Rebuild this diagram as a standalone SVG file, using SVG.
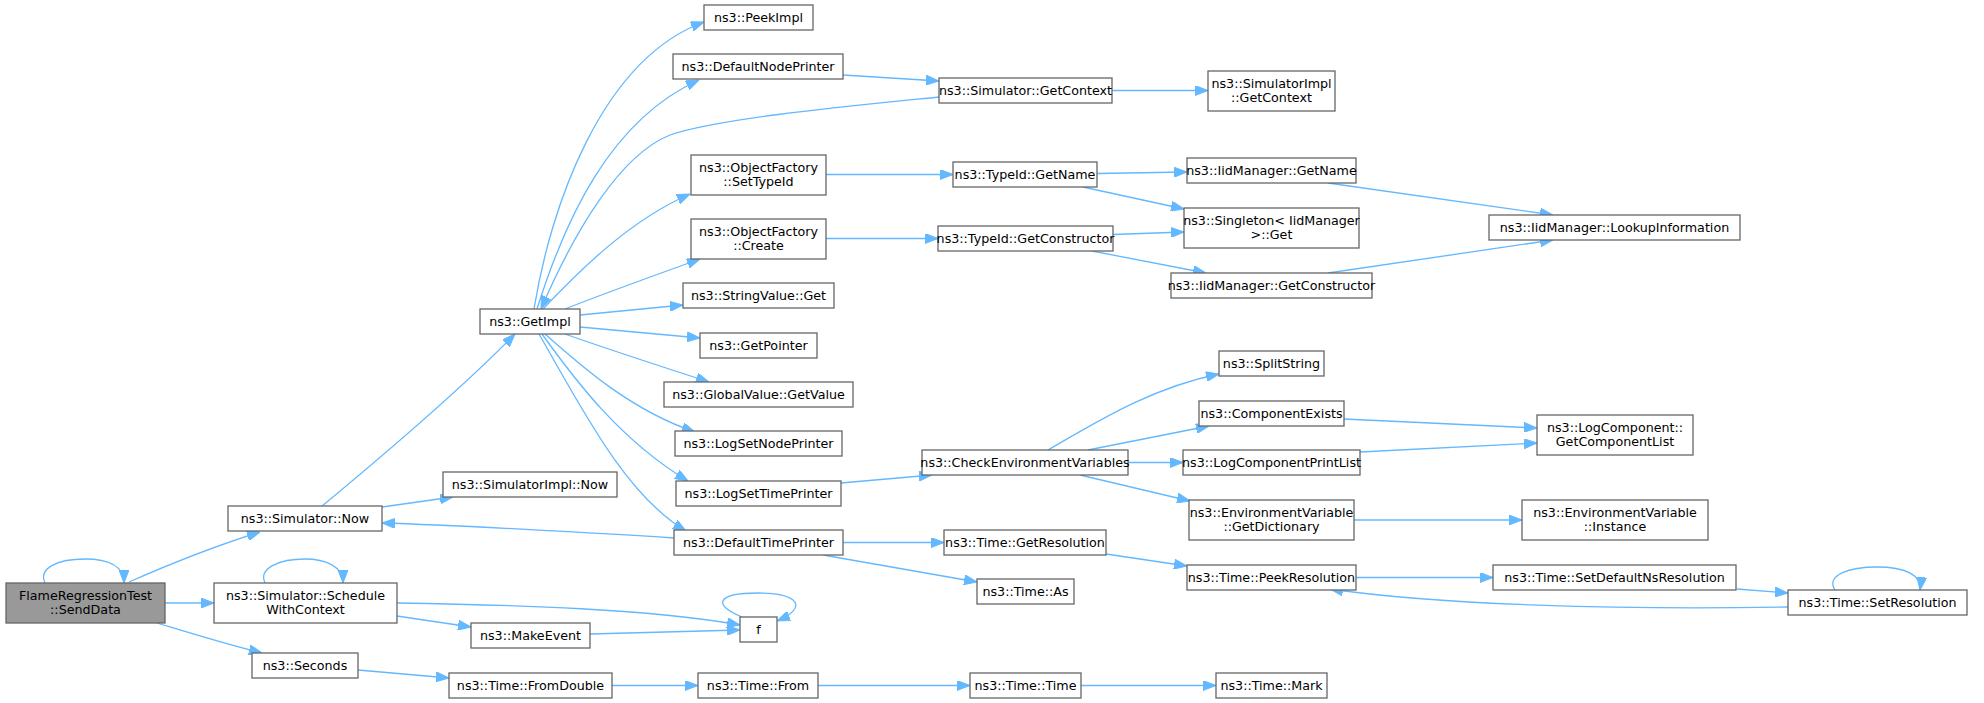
<svg xmlns="http://www.w3.org/2000/svg" width="1984" height="703" viewBox="0 0 1984 703">
<style>
.n rect{fill:#fff;stroke:#666;stroke-width:1.3}
.n text{font-family:"DejaVu Sans","Liberation Sans",sans-serif;font-size:12.7px;fill:#000;text-anchor:middle}
#n1 rect{fill:#999}
.e path{fill:none;stroke:#63b8ff;stroke-width:1.3;marker-end:url(#ah)}
</style>
<defs>
<marker id="ah" markerUnits="userSpaceOnUse" markerWidth="13" markerHeight="10" refX="13" refY="5" orient="auto"><path d="M0,0 L13,5 L0,10 z" fill="#63b8ff" stroke="#63b8ff" stroke-width="1"/></marker>
</defs>
<rect width="1984" height="703" fill="#fff"/>
<g id="edges" class="e">
<path d="M45,583 C38,568 58,559 85,559 C108,559 124,566 124,583"/>
<path d="M129,582 C170,564 215,546 260,532"/>
<path d="M165,603 L214,603"/>
<path d="M157,623 C190,633 225,644 262,653"/>
<path d="M322,506 C380,458 460,390 515,334"/>
<path d="M382,507 L453,497"/>
<path d="M674,538 C600,533 450,525 382,523"/>
<path d="M265,583 C258,568 280,559 305,559 C325,559 343,566 343,583"/>
<path d="M397,603 C520,605 650,609 740,625"/>
<path d="M397,616 L471,627"/>
<path d="M590,634 L740,630"/>
<path d="M742,617 C714,606 714,593 758,593 C800,593 808,608 777,621"/>
<path d="M358,670 L449,678"/>
<path d="M612,685.5 L698,685.5"/>
<path d="M818,685.5 L970,685.5"/>
<path d="M1081,685.5 L1216,685.5"/>
<path d="M534,309 C550,210 600,60 704,22"/>
<path d="M537,309 C565,220 610,120 699,80"/>
<path d="M939,97 C850,106 720,118 670,135 C620,155 575,230 541,309"/>
<path d="M843,75 L939,81"/>
<path d="M1112,90.5 L1208,90.5"/>
<path d="M543,309 C580,270 630,220 690,194"/>
<path d="M565,309 C600,295 650,277 700,259"/>
<path d="M580,315 L683,305"/>
<path d="M580,327 L700,338"/>
<path d="M565,334 C610,350 660,366 709,382"/>
<path d="M545,334 C580,365 630,410 695,432"/>
<path d="M542,334 C575,380 620,440 688,481"/>
<path d="M539,334 C580,405 625,495 686,531"/>
<path d="M826,174.5 L953,174.5"/>
<path d="M826,238.5 L938,238.5"/>
<path d="M1097,173.5 L1187,172"/>
<path d="M1083,187 L1184,209"/>
<path d="M1113,234.5 L1184,232"/>
<path d="M1092,251 L1206,273"/>
<path d="M1328,183 L1553,215"/>
<path d="M1328,273 L1553,240"/>
<path d="M841,483 L932,475"/>
<path d="M1048,450 C1095,423 1150,388 1219,374"/>
<path d="M1088,450 L1209,426"/>
<path d="M1128,462.5 L1183,462.5"/>
<path d="M1080,475 L1190,501"/>
<path d="M1344,419 L1537,428"/>
<path d="M1360,452 L1537,443"/>
<path d="M1354,520 L1522,520"/>
<path d="M843,542.5 L944,542.5"/>
<path d="M823,555 L977,582"/>
<path d="M1106,554 L1187,566"/>
<path d="M1356,577.5 L1493,577.5"/>
<path d="M1737,589 L1788,593"/>
<path d="M1788,607 C1620,610 1440,605 1330,589"/>
<path d="M1835,590 C1825,575 1850,567 1877,567 C1905,567 1922,575 1920,590"/>
</g>
<g id="n1" class="n"><rect x="6" y="583" width="159" height="40"/><text x="85.5" y="599.5">FlameRegressionTest</text><text x="85.5" y="613.5">::SendData</text></g>
<g id="n2" class="n"><rect x="228" y="506" width="154" height="25"/><text x="305" y="523">ns3::Simulator::Now</text></g>
<g id="n3" class="n"><rect x="214" y="583" width="183" height="40"/><text x="305.5" y="599.5">ns3::Simulator::Schedule</text><text x="305.5" y="613.5">WithContext</text></g>
<g id="n4" class="n"><rect x="252" y="653" width="106" height="25"/><text x="305" y="670">ns3::Seconds</text></g>
<g id="n5" class="n"><rect x="480" y="309" width="100" height="25"/><text x="530" y="326">ns3::GetImpl</text></g>
<g id="n6" class="n"><rect x="443" y="472" width="174" height="25"/><text x="530" y="489">ns3::SimulatorImpl::Now</text></g>
<g id="n7" class="n"><rect x="704" y="5" width="109" height="25"/><text x="758.5" y="22">ns3::PeekImpl</text></g>
<g id="n8" class="n"><rect x="673" y="54" width="170" height="25"/><text x="758" y="71">ns3::DefaultNodePrinter</text></g>
<g id="n9" class="n"><rect x="691" y="155" width="135" height="40"/><text x="758.5" y="171.5">ns3::ObjectFactory</text><text x="758.5" y="185.5">::SetTypeId</text></g>
<g id="n10" class="n"><rect x="691" y="219" width="135" height="40"/><text x="758.5" y="235.5">ns3::ObjectFactory</text><text x="758.5" y="249.5">::Create</text></g>
<g id="n11" class="n"><rect x="683" y="283" width="151" height="25"/><text x="758.5" y="300">ns3::StringValue::Get</text></g>
<g id="n12" class="n"><rect x="700" y="333" width="117" height="25"/><text x="758.5" y="350">ns3::GetPointer</text></g>
<g id="n13" class="n"><rect x="664" y="382" width="189" height="25"/><text x="758.5" y="399">ns3::GlobalValue::GetValue</text></g>
<g id="n14" class="n"><rect x="675" y="431" width="167" height="25"/><text x="758.5" y="448">ns3::LogSetNodePrinter</text></g>
<g id="n15" class="n"><rect x="676" y="481" width="165" height="25"/><text x="758.5" y="498">ns3::LogSetTimePrinter</text></g>
<g id="n16" class="n"><rect x="674" y="530" width="169" height="25"/><text x="758.5" y="547">ns3::DefaultTimePrinter</text></g>
<g id="n17" class="n"><rect x="740" y="617" width="37" height="25"/><text x="758.5" y="634">f</text></g>
<g id="n18" class="n"><rect x="471" y="623" width="119" height="25"/><text x="530.5" y="640">ns3::MakeEvent</text></g>
<g id="n19" class="n"><rect x="449" y="673" width="163" height="25"/><text x="530.5" y="690">ns3::Time::FromDouble</text></g>
<g id="n20" class="n"><rect x="698" y="673" width="120" height="25"/><text x="758" y="690">ns3::Time::From</text></g>
<g id="n21" class="n"><rect x="939" y="78" width="173" height="25"/><text x="1025.5" y="95">ns3::Simulator::GetContext</text></g>
<g id="n22" class="n"><rect x="1208" y="71" width="127" height="40"/><text x="1271.5" y="87.5">ns3::SimulatorImpl</text><text x="1271.5" y="101.5">::GetContext</text></g>
<g id="n23" class="n"><rect x="953" y="162" width="144" height="25"/><text x="1025" y="179">ns3::TypeId::GetName</text></g>
<g id="n24" class="n"><rect x="938" y="226" width="175" height="25"/><text x="1025.5" y="243">ns3::TypeId::GetConstructor</text></g>
<g id="n25" class="n"><rect x="922" y="450" width="206" height="25"/><text x="1025" y="467">ns3::CheckEnvironmentVariables</text></g>
<g id="n26" class="n"><rect x="944" y="530" width="162" height="25"/><text x="1025" y="547">ns3::Time::GetResolution</text></g>
<g id="n27" class="n"><rect x="977" y="579" width="97" height="25"/><text x="1025.5" y="596">ns3::Time::As</text></g>
<g id="n28" class="n"><rect x="970" y="673" width="111" height="25"/><text x="1025.5" y="690">ns3::Time::Time</text></g>
<g id="n29" class="n"><rect x="1187" y="158" width="169" height="25"/><text x="1271.5" y="175">ns3::IidManager::GetName</text></g>
<g id="n30" class="n"><rect x="1184" y="208" width="175" height="40"/><text x="1271.5" y="224.5">ns3::Singleton&lt; IidManager</text><text x="1271.5" y="238.5">&gt;::Get</text></g>
<g id="n31" class="n"><rect x="1171" y="273" width="201" height="25"/><text x="1271.5" y="290">ns3::IidManager::GetConstructor</text></g>
<g id="n32" class="n"><rect x="1219" y="351" width="105" height="25"/><text x="1271.5" y="368">ns3::SplitString</text></g>
<g id="n33" class="n"><rect x="1199" y="401" width="145" height="25"/><text x="1271.5" y="418">ns3::ComponentExists</text></g>
<g id="n34" class="n"><rect x="1183" y="450" width="177" height="25"/><text x="1271.5" y="467">ns3::LogComponentPrintList</text></g>
<g id="n35" class="n"><rect x="1189" y="500" width="165" height="40"/><text x="1271.5" y="516.5">ns3::EnvironmentVariable</text><text x="1271.5" y="530.5">::GetDictionary</text></g>
<g id="n36" class="n"><rect x="1187" y="565" width="169" height="25"/><text x="1271.5" y="582">ns3::Time::PeekResolution</text></g>
<g id="n37" class="n"><rect x="1216" y="673" width="111" height="25"/><text x="1271.5" y="690">ns3::Time::Mark</text></g>
<g id="n38" class="n"><rect x="1489" y="215" width="251" height="25"/><text x="1614.5" y="232">ns3::IidManager::LookupInformation</text></g>
<g id="n39" class="n"><rect x="1537" y="415" width="156" height="40"/><text x="1615" y="431.5">ns3::LogComponent::</text><text x="1615" y="445.5">GetComponentList</text></g>
<g id="n40" class="n"><rect x="1522" y="500" width="186" height="40"/><text x="1615" y="516.5">ns3::EnvironmentVariable</text><text x="1615" y="530.5">::Instance</text></g>
<g id="n41" class="n"><rect x="1493" y="565" width="243" height="25"/><text x="1614.5" y="582">ns3::Time::SetDefaultNsResolution</text></g>
<g id="n42" class="n"><rect x="1788" y="590" width="179" height="25"/><text x="1877.5" y="607">ns3::Time::SetResolution</text></g>
</svg>
